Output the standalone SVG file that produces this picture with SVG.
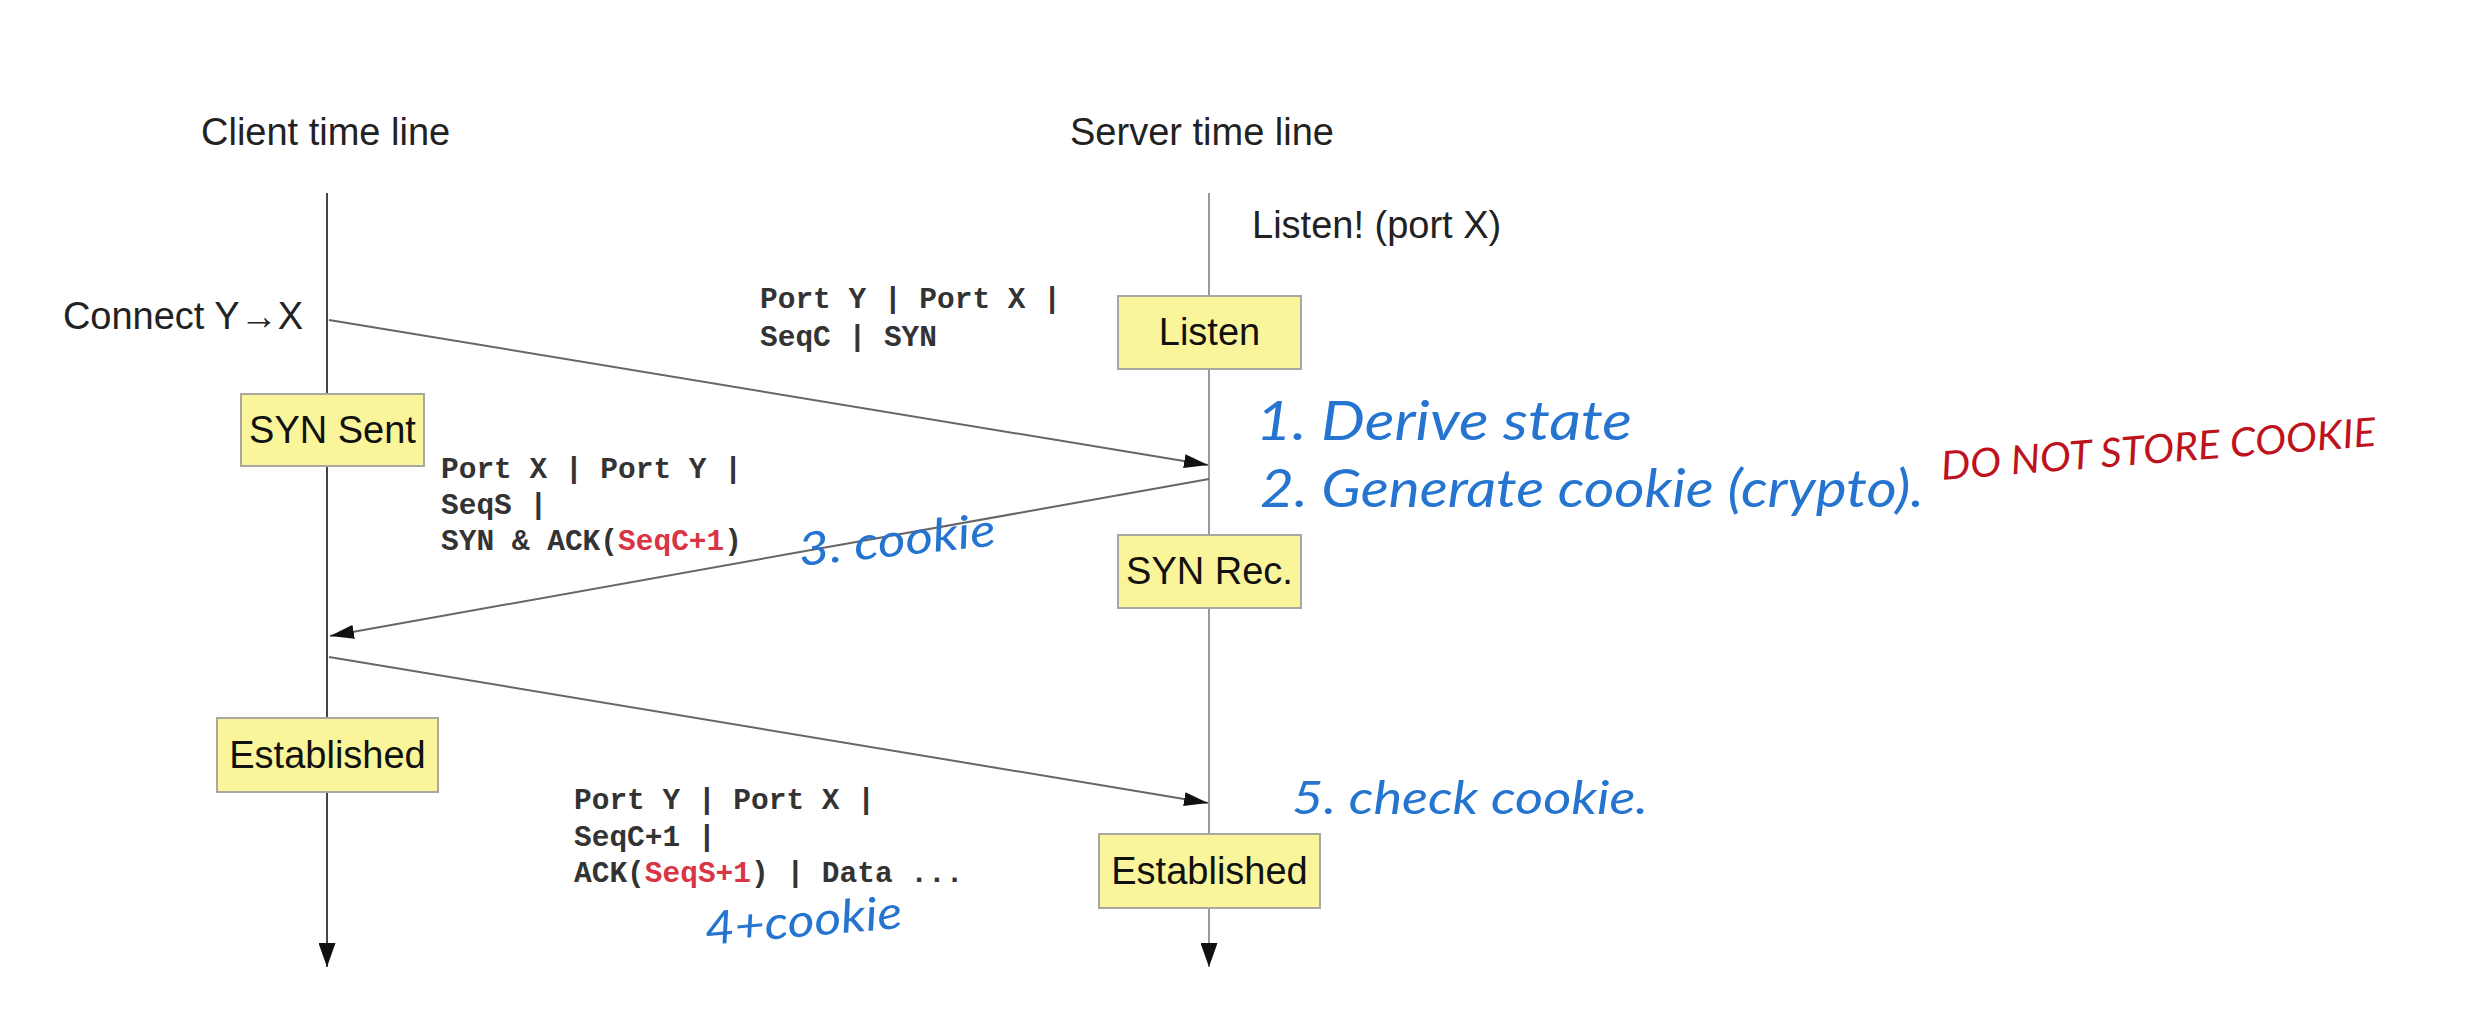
<svg xmlns="http://www.w3.org/2000/svg" width="2476" height="1032" viewBox="0 0 2476 1032">
<style>
.title{font-family:"Liberation Sans",Arial,sans-serif;font-size:38px;fill:#222}
.box{fill:#FAF59A;stroke:#A8A8A0;stroke-width:2}
.lbl{font-family:"Liberation Sans",Arial,sans-serif;font-size:38px;fill:#111;text-anchor:middle}
.mono{font-family:"Liberation Mono","Courier New",monospace;font-size:29.5px;font-weight:bold;fill:#333}
.red{fill:#D93545}
.msg{stroke:#666;stroke-width:2;fill:none}
.hand{font-family:Lato,"Liberation Sans",sans-serif;font-style:italic;font-weight:400}
.blue{fill:#2474D0}
.hred{fill:#BE121C}
</style>
<defs>
<marker id="ah" viewBox="0 0 24 14" refX="24" refY="7" markerWidth="24" markerHeight="14" markerUnits="userSpaceOnUse" orient="auto">
<path d="M0,0 L24,7 L0,14 z" fill="#111"/>
</marker>
<marker id="av" viewBox="0 0 24 17" refX="24" refY="8.5" markerWidth="24" markerHeight="17" markerUnits="userSpaceOnUse" orient="auto">
<path d="M0,0 L24,8.5 L0,17 z" fill="#111"/>
</marker>
</defs>
<rect width="2476" height="1032" fill="#fff"/>

<g id="timelines">
<line x1="327" y1="193" x2="327" y2="967" stroke="#444" stroke-width="2" marker-end="url(#av)"/>
<line x1="1209" y1="193" x2="1209" y2="967" stroke="#999" stroke-width="2" marker-end="url(#av)"/>
</g>

<g id="titles">
<text class="title" x="201" y="145">Client time line</text>
<text class="title" x="1070" y="145">Server time line</text>
<text class="title" x="1252" y="238">Listen! (port X)</text>
<text class="title" x="303" y="329" text-anchor="end">Connect Y→X</text>
</g>

<g id="connectors">
<line class="msg" x1="329" y1="320" x2="1208" y2="465" marker-end="url(#ah)"/>
<line class="msg" x1="1209" y1="479" x2="330" y2="636" marker-end="url(#ah)"/>
<line class="msg" x1="329" y1="657" x2="1208" y2="803" marker-end="url(#ah)"/>
</g>

<g id="node-syn-sent">
<rect class="box" x="241" y="394" width="183" height="72"/>
<text class="lbl" x="332.5" y="443">SYN Sent</text>
</g>
<g id="node-listen">
<rect class="box" x="1118" y="296" width="183" height="73"/>
<text class="lbl" x="1209.5" y="345">Listen</text>
</g>
<g id="node-syn-rec">
<rect class="box" x="1118" y="535" width="183" height="73"/>
<text class="lbl" x="1209.5" y="584">SYN Rec.</text>
</g>
<g id="node-client-established">
<rect class="box" x="217" y="718" width="221" height="74"/>
<text class="lbl" x="327.5" y="768">Established</text>
</g>
<g id="node-server-established">
<rect class="box" x="1099" y="834" width="221" height="74"/>
<text class="lbl" x="1209.5" y="884">Established</text>
</g>

<g id="msg-labels">
<text class="mono" x="760" y="308">Port Y | Port X |</text>
<text class="mono" x="760" y="346">SeqC | SYN</text>
<text class="mono" x="441" y="478">Port X | Port Y |</text>
<text class="mono" x="441" y="514">SeqS |</text>
<text class="mono" x="441" y="550">SYN &amp; ACK(<tspan class="red">SeqC+1</tspan>)</text>
<text class="mono" x="574" y="809">Port Y | Port X |</text>
<text class="mono" x="574" y="846">SeqC+1 |</text>
<text class="mono" x="574" y="882">ACK(<tspan class="red">SeqS+1</tspan>) | Data ...</text>
</g>

<g id="annotations">
<text class="hand blue" x="1256" y="440" font-size="54" textLength="376" lengthAdjust="spacingAndGlyphs">1. Derive state</text>
<text class="hand blue" x="1260" y="507" font-size="52" textLength="664" lengthAdjust="spacingAndGlyphs">2. Generate cookie (crypto).</text>
<text class="hand hred" x="1942" y="480" font-size="40" textLength="436" lengthAdjust="spacingAndGlyphs" transform="rotate(-4.5 1942 480)">DO NOT STORE COOKIE</text>
<text class="hand blue" x="800" y="566" font-size="46" textLength="198" lengthAdjust="spacingAndGlyphs" transform="rotate(-6 800 566)">3. cookie</text>
<text class="hand blue" x="706" y="945" font-size="46" textLength="198" lengthAdjust="spacingAndGlyphs" transform="rotate(-5 706 945)">4+cookie</text>
<text class="hand blue" x="1292" y="814" font-size="46" textLength="356" lengthAdjust="spacingAndGlyphs">5. check cookie.</text>
</g>
</svg>
